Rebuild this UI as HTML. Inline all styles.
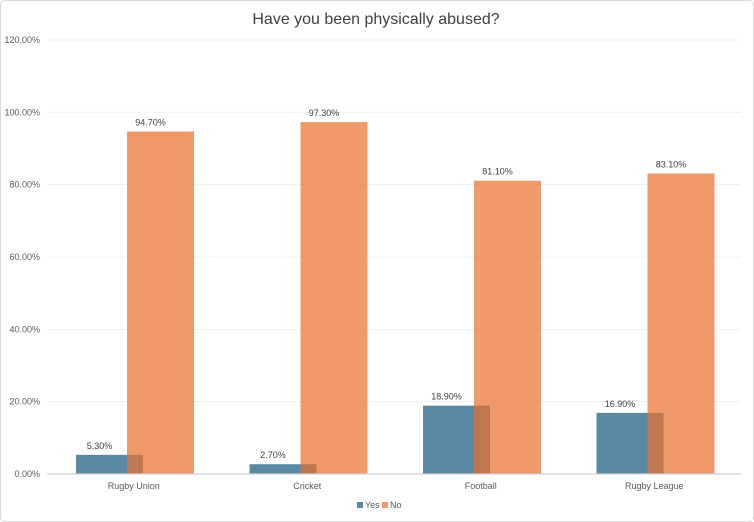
<!DOCTYPE html>
<html><head><meta charset="utf-8"><style>
body{margin:0;background:#fff;}
svg{display:block;font-family:"Liberation Sans",sans-serif;}
</style></head><body>
<svg id="c" width="754" height="522" xmlns="http://www.w3.org/2000/svg">
<rect x="0.5" y="0.5" width="753" height="521" rx="4" fill="#fff" stroke="#d9d9d9"/>
<text x="376" y="24" text-anchor="middle" font-size="16" fill="#404040">Have you been physically abused?</text>
<g id="grid"></g><g id="bars"></g><g id="labels"></g>
<g>
<rect x="357" y="502" width="6" height="6" fill="#5a8aa3"/>
<text x="365" y="508" font-size="9" fill="#595959">Yes</text>
<rect x="382" y="502" width="6" height="6" fill="#f09a6c"/>
<text x="390" y="508" font-size="9" fill="#595959">No</text>
</g>
</svg>
<script>
const categories=["Rugby Union","Cricket","Football","Rugby League"];
const yesValues=[5.3,2.7,18.9,16.9];
const noValues=[94.7,97.3,81.1,83.1];
const yTicks=[0,20,40,60,80,100,120];
const NS="http://www.w3.org/2000/svg";
const x0=47,x1=741,y0=474,yTop=40,yMax=120;
const bw=(x1-x0)/categories.length;
const y=v=>y0-(v/yMax)*(y0-yTop);
function mk(t,a,p){const e=document.createElementNS(NS,t);for(const k in a)e.setAttribute(k,a[k]);p.appendChild(e);return e;}
const grid=document.getElementById('grid'),bars=document.getElementById('bars'),labels=document.getElementById('labels');
yTicks.forEach(v=>{
 if(v>0){const l=mk('line',{x1:x0,x2:x1,y1:y(v),y2:y(v),stroke:'#f0f0f0'},grid);
 
 }
 const t=mk('text',{x:40,y:y(v)+3,'text-anchor':'end','font-size':'9',fill:'#595959'},grid);t.textContent=v.toFixed(2)+'%';
 
 
});
categories.forEach((c,i)=>{
 const cx=x0+i*bw;
 const yx=cx+29,nx=cx+80,w=67;
 const r1=mk('rect',{x:yx,y:y(yesValues[i]),width:w,height:y0-y(yesValues[i]),fill:'#5a8aa3'},bars);
 
 
 const r2=mk('rect',{x:nx,y:y(noValues[i]),width:w,height:y0-y(noValues[i]),fill:'#ea6f2d','fill-opacity':'0.7'},bars);
 
 
 const t1=mk('text',{x:yx+w/2-10,y:y(yesValues[i])-6,'text-anchor':'middle','font-size':'9',fill:'#404040'},labels);t1.textContent=yesValues[i].toFixed(2)+'%';
 
 
 const t2=mk('text',{x:nx+w/2-10,y:y(noValues[i])-6,'text-anchor':'middle','font-size':'9',fill:'#404040'},labels);t2.textContent=noValues[i].toFixed(2)+'%';
 
 
 const t3=mk('text',{x:cx+bw/2,y:489,'text-anchor':'middle','font-size':'9',fill:'#595959'},labels);t3.textContent=c;
 
 
});
const ax=mk('line',{x1:x0,x2:x1,y1:y0,y2:y0,stroke:'#d0d0d0','stroke-width':'1.2'},labels);


</script>
</body></html>
